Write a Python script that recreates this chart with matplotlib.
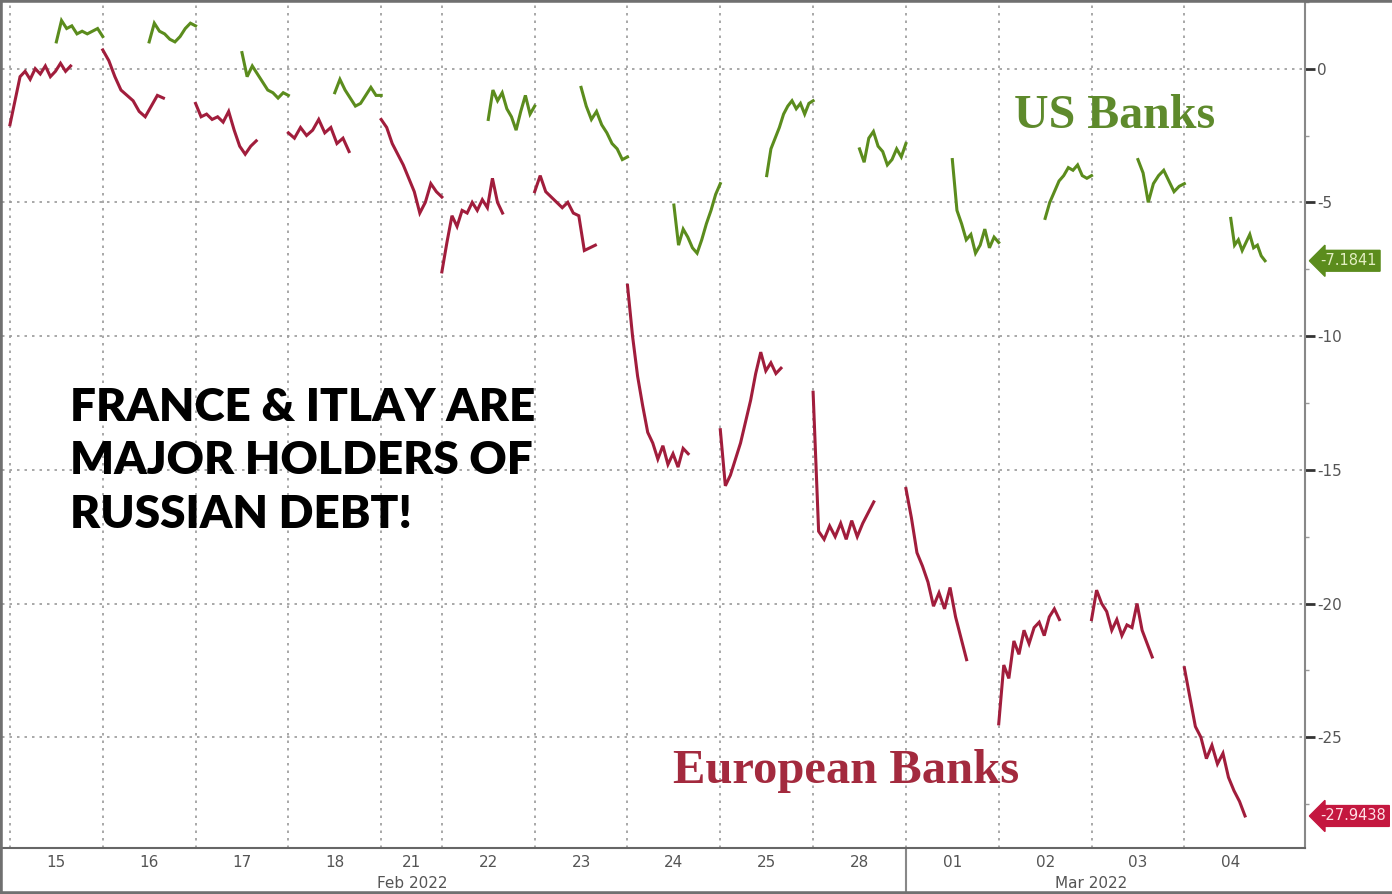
import numpy as np
import matplotlib.pyplot as plt
from matplotlib.ticker import MultipleLocator
from matplotlib.transforms import blended_transform_factory

plt.rcParams['axes.unicode_minus'] = False

# trading days shown on the axis
day_labels = ['15', '16', '17', '18', '21', '22', '23', '24', '25', '28', '01', '02', '03', '04']
us_closed = ['21']  # Presidents Day, only Europe traded

# European banks, intraday % change, one list per day
eu_banks = [
    [-2.1, -1.2, -0.3, -0.1, -0.4, 0.0, -0.2, 0.1, -0.3, -0.1, 0.2, -0.1, 0.1],
    [0.7, 0.3, -0.3, -0.8, -1.0, -1.2, -1.6, -1.8, -1.4, -1.0, -1.1],
    [-1.3, -1.8, -1.7, -1.9, -1.8, -2.0, -1.6, -2.3, -2.9, -3.2, -2.9, -2.7],
    [-2.4, -2.6, -2.2, -2.5, -2.3, -1.9, -2.4, -2.2, -2.8, -2.6, -3.1],
    [-1.9, -2.2, -2.8, -3.2, -3.6, -4.1, -4.6, -5.4, -5.0, -4.3, -4.6, -4.8],
    [-7.6, -6.5, -5.5, -5.9, -5.3, -5.4, -5.0, -5.3, -4.9, -5.2, -4.1, -5.0, -5.4],
    [-4.6, -4.0, -4.6, -4.8, -5.0, -5.2, -5.0, -5.4, -5.5, -6.8, -6.7, -6.6],
    [-8.1, -10.0, -11.5, -12.6, -13.6, -14.0, -14.6, -14.1, -14.8, -14.4, -14.9, -14.2, -14.4],
    [-13.5, -15.6, -15.2, -14.6, -14.0, -13.2, -12.4, -11.4, -10.6, -11.3, -11.0, -11.4, -11.2],
    [-12.1, -17.3, -17.6, -17.1, -17.5, -17.0, -17.6, -16.9, -17.5, -17.0, -16.6, -16.2],
    [-15.7, -16.8, -18.1, -18.6, -19.2, -20.1, -19.6, -20.2, -19.4, -20.5, -21.3, -22.1],
    [-24.5, -22.3, -22.8, -21.4, -21.9, -21.0, -21.5, -20.9, -20.7, -21.2, -20.5, -20.2, -20.6],
    [-20.6, -19.5, -20.0, -20.3, -21.0, -20.6, -21.2, -20.8, -20.9, -20.0, -21.0, -21.5, -22.0],
    [-22.4, -23.5, -24.6, -25.0, -25.8, -25.3, -26.0, -25.6, -26.5, -27.0, -27.4, -27.9438],
]

# US banks, intraday % change, one list per day (None = market closed)
us_banks = [
    [1.0, 1.8, 1.5, 1.6, 1.3, 1.4, 1.3, 1.4, 1.5, 1.2],
    [1.0, 1.7, 1.4, 1.3, 1.1, 1.0, 1.2, 1.5, 1.7, 1.6],
    [0.6, -0.3, 0.1, -0.2, -0.5, -0.8, -0.9, -1.1, -0.9, -1.0],
    [-0.9, -0.4, -0.8, -1.1, -1.4, -1.3, -1.0, -0.7, -1.0, -1.0],
    None,
    [-1.9, -0.8, -1.2, -0.9, -1.5, -1.8, -2.3, -1.6, -1.0, -1.7, -1.4],
    [-0.7, -1.4, -1.9, -1.6, -2.1, -2.4, -2.8, -3.0, -3.4, -3.3],
    [-5.1, -6.6, -6.0, -6.3, -6.7, -6.9, -6.4, -5.8, -5.3, -4.7, -4.3],
    [-4.0, -3.0, -2.6, -2.2, -1.7, -1.4, -1.2, -1.5, -1.3, -1.7, -1.3, -1.2],
    [-3.0, -3.5, -2.6, -2.35, -2.9, -3.1, -3.6, -3.4, -3.0, -3.3, -2.8],
    [-3.4, -5.3, -5.8, -6.4, -6.2, -6.9, -6.6, -6.0, -6.7, -6.3, -6.5],
    [-5.6, -5.0, -4.6, -4.2, -4.0, -3.7, -3.8, -3.6, -4.0, -4.1, -4.0],
    [-3.4, -3.9, -5.0, -4.3, -4.0, -3.8, -4.2, -4.6, -4.4, -4.3],
    [-5.6, -6.6, -6.4, -6.8, -6.5, -6.2, -6.7, -6.6, -7.0, -7.1841],
]

# session windows in hours after 03:00 ET
eu_session = (0.0, 8.5)
us_session = (6.5, 13.0)
us_last_end = 11.3   # last day still trading when the chart was taken

green = '#5b8c1d'
red = '#a11d3c'
grid_col = '#9a9a9a'

day_len = [8.5 if d in us_closed else 13.0 for d in day_labels]
day_start = np.concatenate([[0], np.cumsum(day_len)[:-1]])

fig = plt.figure(figsize=(13.92, 8.94), dpi=100)
ax = fig.add_axes([0.0015, 0.0515, 0.936, 0.9465])

for i, d in enumerate(day_labels):
    s = day_start[i]
    eu = eu_banks[i]
    ax.plot(np.linspace(s + eu_session[0], s + eu_session[1], len(eu)), eu,
            color=red, lw=2.2, solid_joinstyle='miter')
    us = us_banks[i]
    if us is not None:
        end = us_last_end if i == len(day_labels) - 1 else us_session[1]
        ax.plot(np.linspace(s + us_session[0], s + end, len(us)), us,
                color=green, lw=2.2, solid_joinstyle='miter')

# grid: dotted lines at each day start and every 5 points
for s in day_start:
    ax.axvline(s, color=grid_col, lw=1.2, ls=(0, (1.5, 3)), zorder=0)
for v in range(0, -30, -5):
    ax.axhline(v, color=grid_col, lw=1.2, ls=(0, (1.5, 3)), zorder=0)

ax.set_xlim(-1.1, 181.4)
ax.set_ylim(-29.14, 2.5)

# right-hand y axis
ax.yaxis.tick_right()
ax.yaxis.set_major_locator(MultipleLocator(5))
ax.yaxis.set_minor_locator(MultipleLocator(2.5))
ax.tick_params(axis='y', which='major', direction='out', length=7, width=2,
               color='#333333', labelsize=11, labelcolor='#555555', pad=2)
ax.tick_params(axis='y', which='minor', direction='out', length=3, width=1, color='#999999')

# day labels at the middle of each session
ax.set_xticks(day_start + np.array(day_len) / 2)
ax.set_xticklabels(day_labels)
ax.tick_params(axis='x', length=0, labelsize=11, labelcolor='#555555', pad=5)

trans = blended_transform_factory(ax.transData, ax.transAxes)
mar_start = day_start[10]
feb_x = day_start[4] + 4.4
mar_x = (mar_start + day_start[-1] + day_len[-1]) / 2
ax.text(feb_x, -0.042, 'Feb 2022', transform=trans, ha='center', va='center',
        fontsize=11, color='#555555')
ax.text(mar_x, -0.042, 'Mar 2022', transform=trans, ha='center', va='center',
        fontsize=11, color='#555555')
ax.plot([mar_start, mar_start], [0, -0.06], transform=trans, color='#888888',
        lw=1.5, clip_on=False)

for side in ['left', 'top']:
    ax.spines[side].set_visible(False)
ax.spines['bottom'].set_color('#666666')
ax.spines['bottom'].set_linewidth(1.5)
ax.spines['right'].set_color('#888888')
ax.spines['right'].set_linewidth(1.5)

# last value tags on the right axis
ytrans = blended_transform_factory(ax.transAxes, ax.transData)
ax.text(1.012, us_banks[-1][-1], '%.4f' % us_banks[-1][-1], transform=ytrans,
        ha='left', va='center', fontsize=10.5, color='#e4efc4',
        bbox=dict(boxstyle='larrow,pad=0.2', fc=green, ec=green))
ax.text(1.012, eu_banks[-1][-1], '%.4f' % eu_banks[-1][-1], transform=ytrans,
        ha='left', va='center', fontsize=10.5, color='#ffe0e6',
        bbox=dict(boxstyle='larrow,pad=0.2', fc='#c4173f', ec='#c4173f'))

# series names
ax.text(0.777, 0.865, 'US Banks', transform=ax.transAxes, fontsize=34.5,
        family='Liberation Serif', weight='bold', color='#5e8a2c', ha='left', va='center')
ax.text(0.515, 0.091, 'European Banks', transform=ax.transAxes, fontsize=35,
        family='Liberation Serif', weight='bold', color='#a32a3e', ha='left', va='center')

# comment text
ax.text(0.052, 0.545, 'FRANCE & ITLAY ARE\nMAJOR HOLDERS OF\nRUSSIAN DEBT!',
        transform=ax.transAxes, fontsize=33, family='Lato', weight='heavy',
        color='black', ha='left', va='top', linespacing=1.37)

# outer frame of the screenshot
for xs, ys in [([0, 0], [0, 1]), ([0, 1], [1, 1]), ([0, 1], [0, 0])]:
    fig.add_artist(plt.Line2D(xs, ys, color='#707070', lw=4, transform=fig.transFigure))

fig.savefig('out.png', dpi=100)
